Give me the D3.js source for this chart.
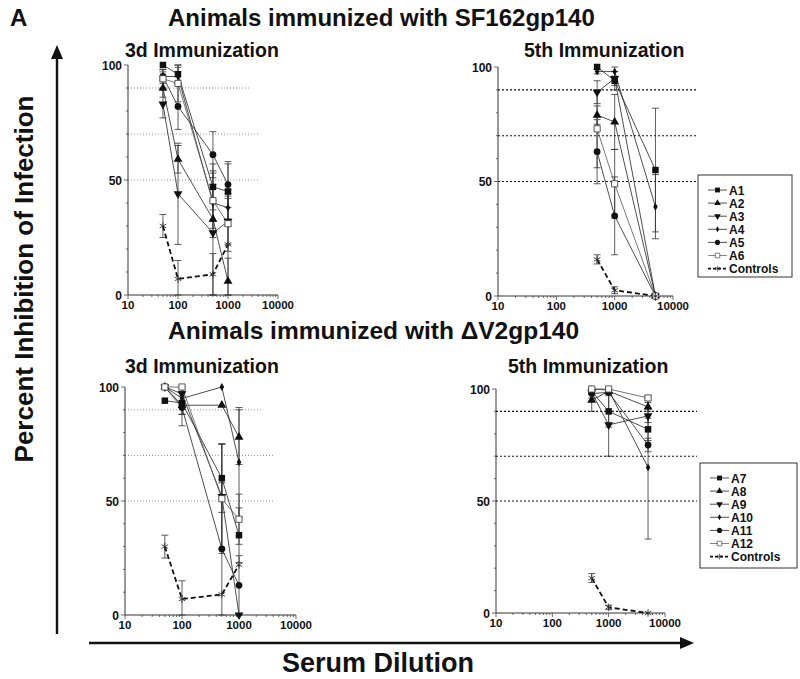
<!DOCTYPE html>
<html>
<head>
<meta charset="utf-8">
<script src="https://cdn.jsdelivr.net/npm/d3@7"></script>
<style>
  body { margin: 0; background: #fff; }
  text { font-family: "Liberation Sans", Arial, sans-serif; font-weight: bold; fill: #111; }
</style>
</head>
<body>
<script>
// dilutions used at each immunization
var dilution3d = [50, 100, 500, 1000];
var dilution5th = [500, 1000, 5000];

var namesSF = ["A1", "A2", "A3", "A4", "A5", "A6", "Controls"];
var namesDV = ["A7", "A8", "A9", "A10", "A11", "A12", "Controls"];

// percent inhibition, one row per animal (last row = controls)
var sf3dMean = [[100, 96, 47, 45], [90, 59, 33, 6], [83, 44, 27, 32], [95, 95, 40, 38],
                [95, 82, 61, 48], [94, 92, 41, 31], [30, 7, 9, 22]];
var sf3dErr  = [[0, 4, 10, 12], [4, 6, 8, 10], [6, 22, 27, 10], [2, 4, 8, 8],
                [3, 10, 10, 10], [4, 8, 12, 12], [5, 8, 9, 22]];

var sf5thMean = [[100, 94, 55], [79, 76, 0], [89, 95, 0], [98, 98, 39],
                 [63, 35, 0], [73, 49, 0], [16, 2.5, 0]];
var sf5thErr  = [[0, 4, 27], [4, 12, 0], [5, 3, 0], [1, 2, 14],
                 [14, 17, 0], [17, 15, 0], [2, 1.5, 0]];

var dv3dMean = [[94, 93, 60, 35], [100, 92, 92, 78], [100, 97, 52, 0], [100, 95, 100, 67],
                [100, 91, 29, 13], [100, 100, 51, 42], [30, 7, 9, 22]];
var dv3dErr  = [[0, 5, 15, 12], [0, 4, 0, 12], [0, 3, 23, 0], [0, 3, 0, 24],
                [0, 8, 29, 13], [0, 0, 24, 11], [5, 8, 0, 0]];

var dv5thMean = [[99, 90, 82], [95, 99, 92], [98.5, 84, 88], [100, 99.5, 65],
                 [98, 98.5, 75], [100, 100, 96], [15.6, 2.5, 0]];
var dv5thErr  = [[1, 7, 5], [5, 1, 2], [1, 14, 3], [0, 1, 32],
                 [2, 1, 3], [0, 0, 1], [2, 1, 0]];

var refLevels = [90, 70, 50];
var xTicks = [10, 100, 1000, 10000];
var yTicks = [0, 50, 100];

var width = 800, height = 679;

var svg = d3.select("body").append("svg")
    .attr("width", width)
    .attr("height", height);

// marker per series index
var tri = d3.symbol().type(d3.symbolTriangle).size(34)();
var shapes = [
    {d: d3.symbol().type(d3.symbolSquare).size(42)(), fill: "#111"},
    {d: tri, fill: "#111"},
    {d: tri, fill: "#111", rot: 180},
    {d: d3.symbol().type(d3.symbolDiamond).size(18)(), fill: "#111"},
    {d: d3.symbol().type(d3.symbolCircle).size(36)(), fill: "#111"},
    {d: d3.symbol().type(d3.symbolSquare).size(38)(), fill: "#fff", stroke: "#444"},
    {d: d3.symbol().type(d3.symbolAsterisk || d3.symbolCross).size(40)(), fill: "none", stroke: "#333"}
];

function drawMarker(g, i, x, y) {
    var s = shapes[i];
    g.append("path")
        .attr("d", s.d)
        .attr("transform", "translate(" + x + "," + y + ")" + (s.rot ? " rotate(" + s.rot + ")" : ""))
        .attr("fill", s.fill)
        .attr("stroke", s.stroke || "none")
        .attr("stroke-width", 0.9);
}

function drawPanel(p) {
    var x = d3.scaleLog().domain([10, 10000]).range([p.x0, p.x1]);
    var y = d3.scaleLinear().domain([0, 100]).range([p.y0, p.y1]);
    var g = svg.append("g");

    g.append("text").attr("x", p.tx).attr("y", p.ty)
        .attr("font-size", 19.5).text(p.title);

    // reference levels
    refLevels.forEach(function(v, k) {
        g.append("line")
            .attr("x1", p.x0).attr("x2", p.refEnd[k])
            .attr("y1", y(v)).attr("y2", y(v))
            .attr("stroke", p.refColor).attr("stroke-width", p.refWidth)
            .attr("stroke-dasharray", p.refDash);
    });

    // axes
    g.append("line").attr("x1", p.x0).attr("x2", p.x0).attr("y1", p.y0).attr("y2", p.y1)
        .attr("stroke", "#333");
    g.append("line").attr("x1", p.x0).attr("x2", p.x1).attr("y1", p.y0).attr("y2", p.y0)
        .attr("stroke", "#333");

    d3.range(0, 101, 10).forEach(function(v) {
        var major = yTicks.indexOf(v) >= 0;
        g.append("line").attr("x1", p.x0 - (major ? 4 : 2)).attr("x2", p.x0)
            .attr("y1", y(v)).attr("y2", y(v)).attr("stroke", "#444").attr("stroke-width", 0.8);
    });
    yTicks.forEach(function(v) {
        g.append("text").attr("x", p.x0 - 6).attr("y", y(v) + 4.5)
            .attr("text-anchor", "end").attr("font-size", 12).text(v);
    });

    x.ticks().forEach(function(v) {
        var major = xTicks.indexOf(v) >= 0;
        g.append("line").attr("x1", x(v)).attr("x2", x(v))
            .attr("y1", p.y0).attr("y2", p.y0 + (major ? 4 : 2))
            .attr("stroke", "#444").attr("stroke-width", 0.8);
    });
    xTicks.forEach(function(v) {
        g.append("text").attr("x", x(v)).attr("y", p.y0 + 13.5)
            .attr("text-anchor", "middle").attr("font-size", 11.5).text(v);
    });

    // error bars
    p.mean.forEach(function(row, i) {
        row.forEach(function(m, j) {
            var e = p.err[i][j];
            if (!e) return;
            var cx = x(p.dil[j]);
            var lo = Math.max(0, m - e), hi = Math.min(100, m + e);
            g.append("line").attr("x1", cx).attr("x2", cx).attr("y1", y(lo)).attr("y2", y(hi))
                .attr("stroke", "#333").attr("stroke-width", 0.8);
            [lo, hi].forEach(function(v) {
                g.append("line").attr("x1", cx - 3.5).attr("x2", cx + 3.5)
                    .attr("y1", y(v)).attr("y2", y(v))
                    .attr("stroke", "#333").attr("stroke-width", 0.8);
            });
        });
    });

    // series lines
    var line = d3.line()
        .x(function(d, j) { return x(p.dil[j]); })
        .y(function(d) { return y(d); });
    p.mean.forEach(function(row, i) {
        var ctrl = i === p.mean.length - 1;
        g.append("path").attr("d", line(row))
            .attr("fill", "none")
            .attr("stroke", ctrl ? "#111" : (i === 5 ? "#555" : "#222"))
            .attr("stroke-width", ctrl ? 1.8 : 0.8)
            .attr("stroke-dasharray", ctrl ? "5,3" : null);
    });
    p.mean.forEach(function(row, i) {
        row.forEach(function(m, j) { drawMarker(g, i, x(p.dil[j]), y(m)); });
    });
}

function drawLegend(lg) {
    var g = svg.append("g");
    g.append("rect").attr("x", lg.x).attr("y", lg.y).attr("width", lg.w).attr("height", lg.h)
        .attr("fill", "#fff").attr("stroke", "#333").attr("stroke-width", 1);
    lg.names.forEach(function(n, i) {
        var yy = lg.y + 15 + i * 13.1;
        var ctrl = i === lg.names.length - 1;
        g.append("line").attr("x1", lg.x + 10).attr("x2", lg.x + 29).attr("y1", yy).attr("y2", yy)
            .attr("stroke", ctrl ? "#111" : (i === 5 ? "#666" : "#222"))
            .attr("stroke-width", ctrl ? 1.6 : 0.8)
            .attr("stroke-dasharray", ctrl ? "3,2" : null);
        var s = shapes[i];
        g.append("path").attr("d", s.d)
            .attr("transform", "translate(" + (lg.x + 19.5) + "," + yy + ") scale(0.75)" + (s.rot ? " rotate(" + s.rot + ")" : ""))
            .attr("fill", s.fill).attr("stroke", s.stroke || "none").attr("stroke-width", 0.9);
        g.append("text").attr("x", lg.x + 31).attr("y", yy + 4.5)
            .attr("font-size", 12).text(n);
    });
}

drawPanel({title: "3d Immunization", tx: 125, ty: 57, x0: 128, x1: 278, y0: 295, y1: 65,
    dil: dilution3d, mean: sf3dMean, err: sf3dErr,
    refEnd: [250, 260, 260], refColor: "#777", refWidth: 0.8, refDash: "1,2"});
drawPanel({title: "5th Immunization", tx: 524, ty: 57, x0: 498, x1: 673, y0: 296, y1: 67,
    dil: dilution5th, mean: sf5thMean, err: sf5thErr,
    refEnd: [697, 697, 697], refColor: "#111", refWidth: 1.1, refDash: "2,2"});
drawPanel({title: "3d Immunization", tx: 125, ty: 373, x0: 125, x1: 296, y0: 615, y1: 387,
    dil: dilution3d, mean: dv3dMean, err: dv3dErr,
    refEnd: [263, 275, 275], refColor: "#777", refWidth: 0.8, refDash: "1,2"});
drawPanel({title: "5th Immunization", tx: 508, ty: 373, x0: 496, x1: 665, y0: 613, y1: 389,
    dil: dilution5th, mean: dv5thMean, err: dv5thErr,
    refEnd: [697, 697, 697], refColor: "#111", refWidth: 1.1, refDash: "2,2"});

drawLegend({x: 698, y: 175, w: 94, h: 102, names: namesSF});
drawLegend({x: 700, y: 463, w: 97, h: 105, names: namesDV});

// figure labels
svg.append("text").attr("x", 10).attr("y", 26).attr("font-size", 24).text("A");
svg.append("text").attr("x", 168).attr("y", 26).attr("font-size", 24).text("Animals immunized with SF162gp140");
svg.append("text").attr("x", 168).attr("y", 339).attr("font-size", 24.5).text("Animals immunized with \u0394V2gp140");

// big arrows
svg.append("line").attr("x1", 57).attr("x2", 57).attr("y1", 634).attr("y2", 54)
    .attr("stroke", "#111").attr("stroke-width", 2.4);
svg.append("path").attr("d", "M57,45 L51,59 L63,59 Z").attr("fill", "#111");
svg.append("line").attr("x1", 89).attr("x2", 684).attr("y1", 643).attr("y2", 643)
    .attr("stroke", "#111").attr("stroke-width", 2.4);
svg.append("path").attr("d", "M694,643 L680,637 L680,649 Z").attr("fill", "#111");

svg.append("text").attr("transform", "translate(33,279) rotate(-90)")
    .attr("text-anchor", "middle").attr("font-size", 26).text("Percent Inhibition of Infection");
svg.append("text").attr("x", 378).attr("y", 672)
    .attr("text-anchor", "middle").attr("font-size", 27).text("Serum Dilution");
</script>
</body>
</html>
